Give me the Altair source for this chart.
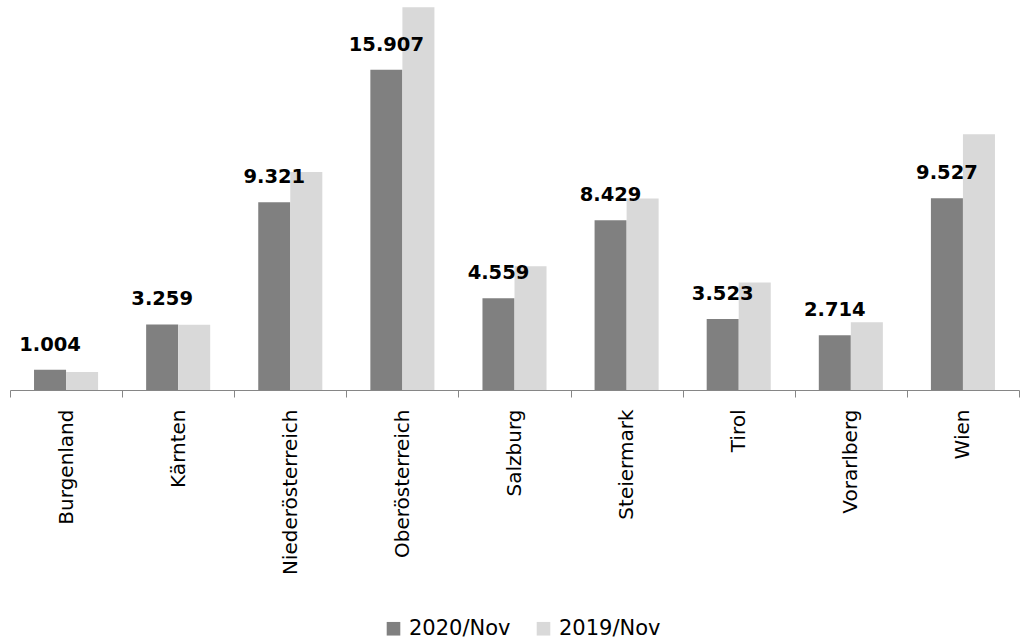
import altair as alt
import pandas as pd

regions = ["Burgenland", "Kärnten", "Niederösterreich", "Oberösterreich", "Salzburg",
           "Steiermark", "Tirol", "Vorarlberg", "Wien"]
series = ["2020/Nov", "2019/Nov"]
values_2020 = [1004, 3259, 9321, 15907, 4559, 8429, 3523, 2714, 9527]
values_2019 = [890, 3245, 10830, 19010, 6145, 9510, 5335, 3365, 12700]
colors = ["#808080", "#D9D9D9"]

rows = []
for r, a, b in zip(regions, values_2020, values_2019):
    rows.append({"Region": r, "Serie": series[0], "Wert": a,
                 "Label": f"{a:,}".replace(",", ".")})
    rows.append({"Region": r, "Serie": series[1], "Wert": b,
                 "Label": f"{b:,}".replace(",", ".")})
df = pd.DataFrame(rows)

x_enc = alt.X("Region:N", sort=regions,
              scale=alt.Scale(paddingInner=0, paddingOuter=0),
              axis=alt.Axis(title=None, labelAngle=270, labelAlign="right",
                            labelBaseline="middle", labelFont="DejaVu Sans",
                            labelFontSize=20, labelColor="black",
                            tickBand="extent", tickSize=7, tickColor="#868686",
                            domainColor="#868686", labelPadding=12, grid=False))
xo_enc = alt.XOffset("Serie:N", sort=series,
                     scale=alt.Scale(domain=series, paddingInner=0, paddingOuter=0.75))
y_enc = alt.Y("Wert:Q", scale=alt.Scale(domain=[0, 19374], nice=False, zero=True), axis=None)

bars = alt.Chart(df).mark_bar().encode(
    x=x_enc,
    xOffset=xo_enc,
    y=y_enc,
    color=alt.Color("Serie:N", sort=series,
                    scale=alt.Scale(domain=series, range=colors),
                    legend=alt.Legend(title=None, orient="none", direction="horizontal",
                                      legendX=373, legendY=618,
                                      labelFont="DejaVu Sans", labelFontSize=21,
                                      labelColor="black", symbolType="square",
                                      symbolSize=185, symbolStrokeWidth=0,
                                      labelOffset=5, columnPadding=22)),
)

labels = alt.Chart(df).transform_filter(
    alt.datum.Serie == series[0]
).mark_text(dy=-19, baseline="alphabetic", align="center", font="DejaVu Sans",
            fontWeight="bold", fontSize=19.5, color="black").encode(
    x=x_enc,
    xOffset=xo_enc,
    y=y_enc,
    text="Label:N",
)

chart = alt.layer(bars, labels).properties(
    width=1020, height=390,
    padding={"left": 0, "top": 0, "right": 0, "bottom": 66},
    autosize=alt.AutoSizeParams(type="fit-x", contains="padding"),
).configure_view(stroke=None)

chart.save("out.html", embed_options={"renderer": "svg", "actions": False})
